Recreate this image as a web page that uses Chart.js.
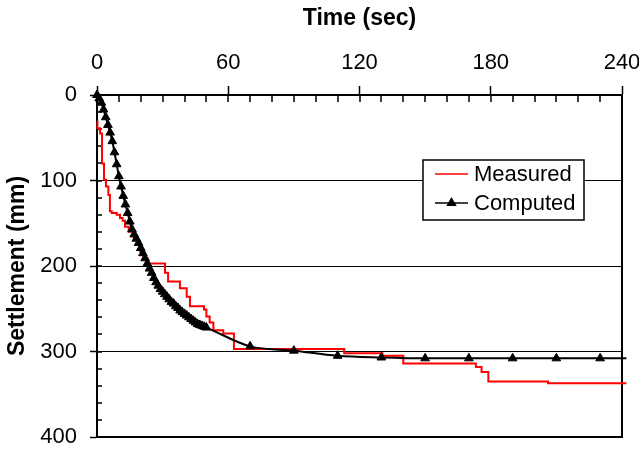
<!DOCTYPE html>
<html lang="en">
<head>
<meta charset="UTF-8">
<title>Settlement vs time</title>
<script src="https://cdn.jsdelivr.net/npm/chart.js@4.4.0/dist/chart.umd.min.js"></script>
<style>
    html, body { margin: 0; padding: 0; background: #fff; }
    #chart-div { width: 639px; height: 453px; }
</style>
</head>
<body>
<div id="chart-div">
    <canvas id="settle-chart" width="639" height="453"></canvas>
</div>
<script>
// tick labels
var timeLabels = [0, 60, 120, 180, 240];
var settlementLabels = [0, 100, 200, 300, 400];

// measured curve (step trace, level start times)
var measuredTime = [0, 0.2, 1.4, 2.3, 3.2, 4.1, 5.2, 5.9, 6.7, 9.0, 10.5, 11.7, 12.8, 14.5, 16.6, 18.1, 19.7, 21.2, 23.0,
    31.1, 32.5, 37.9, 41.0, 42.5, 48.9, 50.0, 51.5, 53.2, 57.7, 62.6, 113, 130.5, 140, 173.2, 175.8, 178.9, 206.2, 242];
var measuredSettlement = [31, 39, 45, 80, 99, 107, 117, 136, 138, 140, 144, 147, 154, 160, 166, 172, 183, 191, 197,
    208, 218, 226, 236, 247, 251, 259, 266, 275, 279, 297, 302, 305, 314, 318, 324, 335, 337, 337];

// computed curve
var computedTime = [0, 1, 2, 3, 4, 5, 6, 7, 8, 9, 10, 11, 12, 13, 14, 15, 16, 17, 18, 19, 20,
    21, 22, 23, 24, 25, 26, 27, 28, 29, 30, 31, 32, 33, 34, 35, 36, 37, 38, 39, 40,
    41, 42, 43, 44, 45, 46, 47, 48, 49, 50, 70, 90, 110, 130, 150, 170, 190, 210, 230, 242];
var computedSettlement = [0, 4, 9, 17, 26, 35, 44, 54, 67, 81, 95, 107, 118, 128, 138, 148, 157, 163, 168, 173, 179,
    185, 191, 197, 203, 208, 214, 219, 223, 227, 230, 233, 236, 239, 242, 244, 247, 249, 252, 254, 256,
    258, 260, 262, 264, 266, 268, 269, 270, 271, 272, 294, 299, 305, 307, 308, 308, 308, 308, 308, 308];

function toPoints(xs, ys) {
    return xs.map(function (x, i) { return { x: x, y: ys[i] }; });
}

Chart.defaults.font.family = "'Liberation Sans', Arial, sans-serif";
Chart.defaults.color = '#000';

// ticks that point into the plot
var innerTicks = {
    id: 'innerTicks',
    beforeDatasetsDraw: function (chart) {
        var ctx = chart.ctx, area = chart.chartArea;
        var sx = chart.scales.x, sy = chart.scales.y;
        ctx.save();
        ctx.strokeStyle = '#000';
        ctx.lineWidth = 1.5;
        ctx.beginPath();
        sx.ticks.forEach(function (t) {
            var px = Math.round(sx.getPixelForValue(t.value));
            ctx.moveTo(px, area.top);
            ctx.lineTo(px, area.top + 7);
        });
        sy.ticks.forEach(function (t) {
            var py = Math.round(sy.getPixelForValue(t.value));
            ctx.moveTo(area.left, py);
            ctx.lineTo(area.left + 5, py);
        });
        ctx.stroke();
        ctx.restore();
    }
};

// boxed legend inside the plot
var boxLegend = {
    id: 'boxLegend',
    afterDraw: function (chart) {
        var ctx = chart.ctx;
        var ds = chart.data.datasets;
        var bx = 423, by = 160, bw = 161, bh = 60;
        ctx.save();
        ctx.fillStyle = '#fff';
        ctx.fillRect(bx, by, bw, bh);
        ctx.strokeStyle = '#000';
        ctx.lineWidth = 1.5;
        ctx.strokeRect(bx, by, bw, bh);
        ctx.font = "22px 'Liberation Sans', Arial, sans-serif";
        ctx.textBaseline = 'middle';
        ctx.fillStyle = '#000';
        var rows = [ds[1], ds[0]];
        rows.forEach(function (d, i) {
            var y = by + 14 + i * 29;
            ctx.strokeStyle = d.borderColor;
            ctx.lineWidth = 1.5;
            ctx.beginPath();
            ctx.moveTo(bx + 12, y);
            ctx.lineTo(bx + 45, y);
            ctx.stroke();
            if (d.pointStyle === 'triangle') {
                Chart.helpers.drawPoint(ctx, { pointStyle: 'triangle', radius: 4.5, borderWidth: 1 }, bx + 28.5, y);
                ctx.fillStyle = '#000';
                ctx.fill();
            }
            ctx.fillStyle = '#000';
            ctx.fillText(d.label, bx + 51, y + 1);
        });
        ctx.restore();
    }
};

new Chart(document.getElementById('settle-chart'), {
    type: 'line',
    data: {
        datasets: [{
            label: 'Computed',
            data: toPoints(computedTime, computedSettlement),
            borderColor: '#000',
            backgroundColor: '#000',
            borderWidth: 2,
            pointStyle: 'triangle',
            pointRadius: function (c) { return c.dataIndex === computedTime.length - 1 ? 0 : 5; },
            pointBorderWidth: 1,
            cubicInterpolationMode: 'monotone',
            clip: false,
            order: 0
        }, {
            label: 'Measured',
            data: toPoints(measuredTime, measuredSettlement),
            borderColor: '#ff0000',
            borderWidth: 2,
            stepped: 'before',
            pointRadius: 0,
            clip: false,
            order: 1
        }]
    },
    options: {
        responsive: false,
        animation: false,
        layout: { padding: 0, autoPadding: false },
        plugins: { legend: { display: false }, tooltip: { enabled: false } },
        scales: {
            x: {
                type: 'linear',
                position: 'top',
                min: 0, max: 240,
                afterFit: function (s) { s.height = 95; s.paddingLeft = 0; s.paddingRight = 0; },
                ticks: {
                    stepSize: 10, autoSkip: false, maxRotation: 0, padding: 10,
                    font: { size: 22 },
                    callback: function (v) { return timeLabels.indexOf(v) >= 0 ? String(v) : ''; }
                },
                grid: {
                    drawOnChartArea: false,
                    tickLength: 9,
                    tickWidth: 1.5,
                    tickColor: function (c) { return timeLabels.indexOf(c.tick.value) >= 0 ? '#000' : 'rgba(0,0,0,0)'; }
                },
                border: { color: '#000', width: 2 },
                title: { display: true, text: 'Time (sec)', font: { size: 23, weight: 'bold' }, padding: { top: 5, bottom: 0 } }
            },
            y: {
                type: 'linear',
                position: 'left',
                reverse: true,
                min: 0, max: 400,
                afterFit: function (s) { s.width = 97; s.paddingTop = 0; s.paddingBottom = 0; },
                ticks: {
                    stepSize: 20, autoSkip: false, padding: 13,
                    font: { size: 22 },
                    callback: function (v) { return settlementLabels.indexOf(v) >= 0 ? String(v) : ''; }
                },
                grid: {
                    lineWidth: 1,
                    color: function (c) {
                        var v = c.tick.value;
                        return (v === 100 || v === 200 || v === 300) ? '#000' : 'rgba(0,0,0,0)';
                    },
                    tickLength: 7,
                    tickWidth: 1.5,
                    tickColor: function (c) { return settlementLabels.indexOf(c.tick.value) >= 0 ? '#000' : 'rgba(0,0,0,0)'; }
                },
                border: { color: '#000', width: 2 },
                title: { display: true, text: 'Settlement (mm)', font: { size: 23, weight: 'bold' }, padding: { top: 4, bottom: 0 } }
            },
            x2: {
                type: 'linear',
                position: 'bottom',
                min: 0, max: 240,
                afterFit: function (s) { s.height = 16; s.paddingLeft = 0; s.paddingRight = 0; },
                ticks: { display: false },
                grid: { display: false, drawTicks: false },
                border: { color: '#000', width: 2 }
            },
            y2: {
                type: 'linear',
                position: 'right',
                min: 0, max: 400,
                afterFit: function (s) { s.width = 17; s.paddingTop = 0; s.paddingBottom = 0; },
                ticks: { display: false },
                grid: { display: false, drawTicks: false },
                border: { color: '#000', width: 2 }
            }
        }
    },
    plugins: [innerTicks, boxLegend]
});
</script>
</body>
</html>
